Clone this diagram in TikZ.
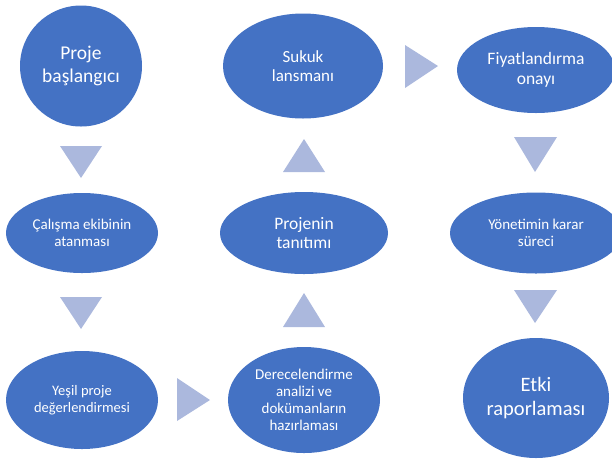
\documentclass[tikz,border=0pt]{standalone}
\usepackage{fontspec}
\setmainfont{Carlito}
\usetikzlibrary{shapes.geometric}
\definecolor{nodeblue}{HTML}{4472C4}
\definecolor{triblue}{HTML}{ABB8DD}
\tikzset{
  stage/.style={ellipse, fill=nodeblue, text=white, inner sep=0pt, align=center},
  tri/.style={fill=triblue},
}
\begin{document}
\begin{tikzpicture}[x=1pt,y=-1pt]
\useasboundingbox (0,0) rectangle (612,459);
\node[stage, minimum width=122pt, minimum height=121pt, font=\fontsize{19.5}{22.5}\selectfont] (a) at (81,66) {Proje\\başlangıcı};
\node[stage, minimum width=152pt, minimum height=80pt, font=\fontsize{15}{17.5}\selectfont] (b) at (82,233) {Çalışma ekibinin\\atanması};
\node[stage, minimum width=152pt, minimum height=98pt, font=\fontsize{14.5}{17}\selectfont] (c) at (82,400) {Yeşil proje\\değerlendirmesi};
\node[stage, minimum width=152pt, minimum height=106pt, font=\fontsize{15}{17}\selectfont] (d) at (304,400) {Derecelendirme\\analizi ve\\dokümanların\\hazırlaması};
\node[stage, minimum width=168pt, minimum height=82pt, font=\fontsize{17.5}{19.5}\selectfont] (e) at (304,233) {Projenin\\tanıtımı};
\node[stage, minimum width=160pt, minimum height=105pt, font=\fontsize{17}{19.5}\selectfont] (f) at (303,66) {Sukuk\\lansmanı};
\node[stage, minimum width=158pt, minimum height=86pt, font=\fontsize{17.5}{20}\selectfont] (g) at (536,70) {Fiyatlandırma\\onayı};
\node[stage, minimum width=172pt, minimum height=81pt, font=\fontsize{15}{17.5}\selectfont] (h) at (536,233) {Yönetimin karar\\süreci};
\node[stage, minimum width=146pt, minimum height=120pt, font=\fontsize{20.5}{23.5}\selectfont] (i) at (536,398) {Etki\\raporlaması};
% arrow triangles
\fill[tri] (60,146) -- (102,146) -- (81,178) -- cycle;
\fill[tri] (60,297) -- (102,297) -- (81,329) -- cycle;
\fill[tri] (177,378) -- (177,421) -- (210,400) -- cycle;
\fill[tri] (283,327) -- (325,327) -- (304,293) -- cycle;
\fill[tri] (283,172) -- (325,172) -- (304,139) -- cycle;
\fill[tri] (405,45) -- (405,88) -- (438,66) -- cycle;
\fill[tri] (514,137) -- (557,137) -- (535,172) -- cycle;
\fill[tri] (514,290) -- (557,290) -- (535,323) -- cycle;
\end{tikzpicture}
\end{document}
